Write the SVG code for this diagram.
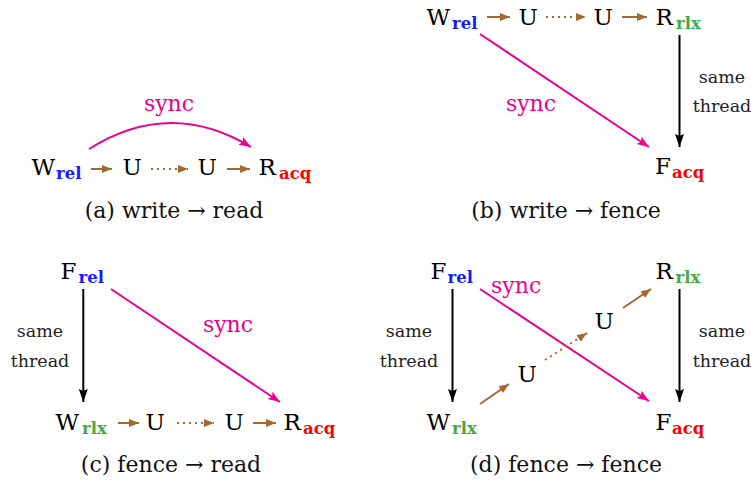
<svg xmlns="http://www.w3.org/2000/svg" width="751" height="482" viewBox="0 0 751 482">
<style>
.t,.s,.lbl,.sl,.cap{font-family:DejaVu Serif,serif}
.t{font-size:23px;fill:#000}
.s{font-size:16.5px;font-weight:bold}
.rel{fill:#1a1aff}.acq{fill:#ff0000}.rlx{fill:#44aa44}
.lbl{font-size:17.5px;fill:#222;text-anchor:middle}
.sl{font-size:22px;fill:#ec008c}
.cap{font-size:22px;fill:#111;text-anchor:middle}
.b{stroke:#a4692f;stroke-width:2;fill:none;marker-end:url(#hb)}
.d{stroke:#a4692f;stroke-width:2;fill:none;stroke-dasharray:2 4;marker-end:url(#hb)}
.p{stroke:#ec008c;stroke-width:2;fill:none;marker-end:url(#hp)}
.k{stroke:#000;stroke-width:2;fill:none;marker-end:url(#hk)}
</style>
<defs>
<marker id="hb" markerUnits="userSpaceOnUse" orient="auto" markerWidth="11" markerHeight="9" refX="10" refY="4">
<path d="M0,0 L10,4 L0,8 z" fill="#a4692f"/></marker>
<marker id="hp" markerUnits="userSpaceOnUse" orient="auto" markerWidth="13" markerHeight="10" refX="12" refY="4.5">
<path d="M0,0 L12,4.5 L0,9 L2.5,4.5 z" fill="#ec008c"/></marker>
<marker id="hk" markerUnits="userSpaceOnUse" orient="auto" markerWidth="14" markerHeight="10" refX="13" refY="4.5">
<path d="M0,0 L13,4.5 L0,9 L2,4.5 z" fill="#000"/></marker>
</defs>

<!-- panel a -->
<g id="a-W"><text class="t" x="31.5" y="175">W</text><text class="s rel" x="56" y="179">rel</text></g>
<g id="a-U1"><text class="t" x="122.5" y="175">U</text></g>
<g id="a-U2"><text class="t" x="197.5" y="175">U</text></g>
<g id="a-R"><text class="t" x="258.5" y="175">R</text><text class="s acq" x="279" y="179">acq</text></g>
<text class="sl" x="169" y="111" text-anchor="middle">sync</text>
<text class="cap" x="174" y="218">(a) write → read</text>

<!-- panel b -->
<g id="b-W"><text class="t" x="426.5" y="25">W</text><text class="s rel" x="452" y="29">rel</text></g>
<g id="b-U1"><text class="t" x="518.5" y="25">U</text></g>
<g id="b-U2"><text class="t" x="593.5" y="25">U</text></g>
<g id="b-R"><text class="t" x="655.5" y="25">R</text><text class="s rlx" x="676" y="29">rlx</text></g>
<g id="b-F"><text class="t" x="655" y="174">F</text><text class="s acq" x="672" y="178">acq</text></g>
<text class="sl" x="531" y="111" text-anchor="middle">sync</text>
<text class="lbl" x="722" y="83">same</text>
<text class="lbl" x="722" y="112">thread</text>
<text class="cap" x="566" y="218">(b) write → fence</text>

<!-- panel c -->
<g id="c-F"><text class="t" x="60.5" y="279">F</text><text class="s rel" x="78.5" y="283">rel</text></g>
<g id="c-W"><text class="t" x="55.5" y="430">W</text><text class="s rlx" x="82" y="434">rlx</text></g>
<g id="c-U1"><text class="t" x="145.5" y="430">U</text></g>
<g id="c-U2"><text class="t" x="224.5" y="430">U</text></g>
<g id="c-R"><text class="t" x="283.5" y="430">R</text><text class="s acq" x="303" y="434">acq</text></g>
<text class="sl" x="228" y="331.5" text-anchor="middle">sync</text>
<text class="lbl" x="40" y="337">same</text>
<text class="lbl" x="40" y="366.5">thread</text>
<text class="cap" x="171" y="471.5">(c) fence → read</text>

<!-- panel d -->
<g id="d-F1"><text class="t" x="430.5" y="279">F</text><text class="s rel" x="447.5" y="283">rel</text></g>
<g id="d-R"><text class="t" x="655.5" y="279">R</text><text class="s rlx" x="675.5" y="283">rlx</text></g>
<g id="d-W"><text class="t" x="426.5" y="430">W</text><text class="s rlx" x="452" y="434">rlx</text></g>
<g id="d-F2"><text class="t" x="655.5" y="430">F</text><text class="s acq" x="672" y="434">acq</text></g>
<g id="d-U1"><text class="t" x="517.5" y="382">U</text></g>
<g id="d-U2"><text class="t" x="594.5" y="329">U</text></g>
<text class="sl" x="491" y="293">sync</text>
<text class="lbl" x="409" y="337">same</text>
<text class="lbl" x="409" y="366.5">thread</text>
<text class="lbl" x="722" y="337">same</text>
<text class="lbl" x="722" y="366.5">thread</text>
<text class="cap" x="566" y="471.5">(d) fence → fence</text>

<g id="connectors">
<!-- a -->
<line class="b" x1="91" y1="169" x2="112" y2="169"/>
<line class="d" x1="151" y1="169" x2="188" y2="169"/>
<line class="b" x1="227" y1="169" x2="250" y2="169"/>
<path class="p" d="M89,149 Q170,98 251,147"/>
<!-- b -->
<line class="b" x1="487" y1="17" x2="510" y2="17"/>
<line class="d" x1="546" y1="17" x2="586" y2="17"/>
<line class="b" x1="622" y1="17" x2="647" y2="17"/>
<line class="k" x1="679.5" y1="35" x2="679.5" y2="147"/>
<line class="p" x1="480" y1="34" x2="649" y2="147"/>
<!-- c -->
<line class="k" x1="83.3" y1="289" x2="83.3" y2="402"/>
<line class="p" x1="111" y1="289" x2="280" y2="402"/>
<line class="b" x1="118" y1="423" x2="139" y2="423"/>
<line class="d" x1="177" y1="423" x2="214" y2="423"/>
<line class="b" x1="253" y1="423" x2="276" y2="423"/>
<!-- d -->
<line class="k" x1="452.5" y1="289" x2="452.5" y2="402"/>
<line class="k" x1="679.5" y1="289" x2="679.5" y2="402"/>
<line class="p" x1="480" y1="289" x2="649" y2="401"/>
<line class="b" x1="480" y1="404" x2="509" y2="384"/>
<line class="d" x1="545" y1="360" x2="587" y2="333"/>
<line class="b" x1="623" y1="308" x2="651" y2="289"/>
</g>
</svg>
